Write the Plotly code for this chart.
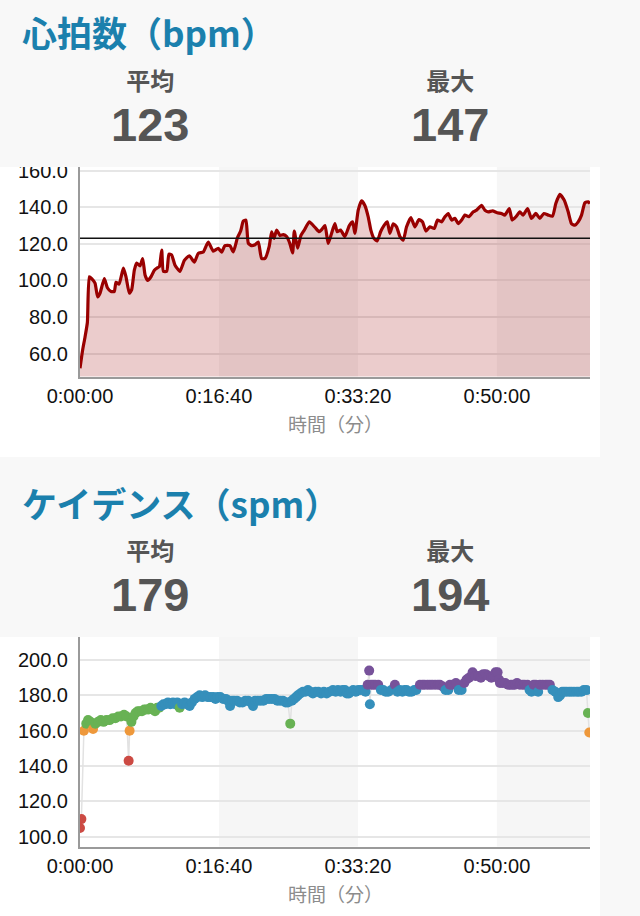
import plotly.graph_objects as go

W, H = 640, 916

# ---------------- data ----------------
hr_t = [0, 19, 36, 53, 67, 84, 108, 127, 144, 175, 197, 223, 247, 259, 281, 312, 331, 355, 372, 391,
        408, 432, 451, 468, 487, 511, 535, 559, 571, 588, 600, 624, 640, 659, 683, 719, 751, 787, 823, 851,
        887, 923, 959, 995, 1019, 1043, 1079, 1103, 1134, 1156, 1175, 1194, 1211, 1235, 1259, 1283, 1307, 1331, 1362, 1379,
        1396, 1415, 1439, 1463, 1487, 1511, 1530, 1542, 1566, 1590, 1614, 1650, 1691, 1722, 1739, 1763, 1786, 1810, 1834, 1851,
        1875, 1906, 1938, 1962, 1978, 2002, 2026, 2050, 2074, 2093, 2115, 2139, 2163, 2187, 2211, 2230, 2254, 2278, 2302, 2326,
        2350, 2381, 2410, 2439, 2465, 2489, 2518, 2549, 2573, 2602, 2626, 2650, 2674, 2698, 2722, 2746, 2770, 2798, 2830, 2854,
        2890, 2914, 2938, 2969, 3002, 3033, 3057, 3089, 3110, 3137, 3165, 3189, 3221, 3249, 3280, 3309, 3338, 3369, 3400, 3424,
        3453, 3484, 3513, 3537, 3561, 3585, 3609, 3633, 3657, 3670]
hr_v = [52, 62, 69, 77, 102, 101, 98.5, 91, 93, 101, 96, 94, 94, 99, 98, 106.7, 102, 93, 95, 105.6,
        109.5, 108, 112, 103, 100, 102, 105.6, 107, 107.5, 116.6, 105, 105, 114.4, 114, 108.5, 105, 111, 113.5, 110, 114.8,
        115.6, 121, 116, 117.6, 115.5, 119, 119, 115.6, 123.6, 127, 132.4, 133, 120.4, 119, 119.5, 121, 112, 112, 118.8, 126.6,
        123, 127.5, 124.6, 125, 124, 120, 115, 127, 117.6, 124.6, 127.5, 132, 129, 126.6, 127.8, 130, 120.2, 125.7, 131, 126.6,
        127.5, 124, 130, 132, 125.7, 138.4, 143.5, 141, 134.8, 127.5, 123, 121.6, 126.6, 130, 132, 125.7, 131, 129.3, 124, 122,
        129.3, 134.4, 129.3, 133.3, 132, 127, 129.3, 128.4, 133, 132, 134.8, 136.6, 133, 134, 131, 133, 135.7, 134.8, 137.5, 138.4,
        141, 138.4, 137.5, 138, 137, 136.6, 135.7, 139.3, 133, 134.8, 137.5, 135.7, 139.3, 133.9, 136.6, 133.9, 136.6, 135.7, 135.1, 142,
        147, 143.9, 137.5, 131, 130.2, 132, 135.7, 142.4, 143, 142]
hr_avg = 123
hr_max = 147

cad_t = [0, 10, 28, 45, 58, 75, 94, 110, 130, 150, 170, 190, 213, 235, 255, 275, 295, 317, 335, 350,
         357, 370, 385, 400, 415, 430, 446, 462, 477, 493, 508, 525, 540, 555, 570, 585, 600, 615, 633, 650,
         669, 685, 700, 717, 735, 753, 770, 789, 805, 825, 843, 861, 880, 900, 920, 940, 960, 975, 990, 1010,
         1030, 1050, 1065, 1080, 1095, 1110, 1130, 1150, 1170, 1190, 1210, 1230, 1245, 1260, 1280, 1300, 1320, 1340, 1360, 1380,
         1400, 1420, 1440, 1460, 1480, 1496, 1513, 1525, 1540, 1555, 1568, 1585, 1604, 1622, 1640, 1658, 1676, 1695, 1715, 1735,
         1755, 1775, 1795, 1820, 1840, 1856, 1875, 1890, 1907, 1920, 1935, 1950, 1966, 1985, 2002, 2020, 2038, 2055, 2070, 2081,
         2086, 2095, 2110, 2125, 2146, 2165, 2182, 2200, 2218, 2240, 2266, 2285, 2302, 2320, 2335, 2350, 2368, 2386, 2405, 2420,
         2446, 2465, 2480, 2500, 2518, 2535, 2555, 2575, 2590, 2610, 2630, 2650, 2662, 2680, 2705, 2725, 2746, 2765, 2782, 2800,
         2825, 2845, 2866, 2885, 2902, 2920, 2940, 2960, 2974, 2990, 3005, 3015, 3022, 3040, 3060, 3080, 3100, 3115, 3129, 3145,
         3165, 3185, 3200, 3220, 3235, 3249, 3265, 3280, 3297, 3310, 3330, 3350, 3365, 3381, 3400, 3420, 3441, 3455, 3470, 3485,
         3501, 3520, 3537, 3555, 3575, 3590, 3609, 3625, 3645, 3655, 3665]
cad_v = [105, 110, 160, 164, 166, 165, 161, 164, 165, 166, 165, 166, 166, 167, 167, 168, 168, 169, 168, 143,
         160, 165, 168, 170, 171, 171, 171, 172, 172, 172, 173, 172, 171, 173, 173, 174, 175, 175, 176, 175,
         176, 175, 176, 173, 175, 176, 175, 174, 176, 178, 179, 180, 179, 180, 179, 179, 179, 178, 179, 179,
         178, 178, 177, 174, 177, 177, 177, 176, 176, 177, 177, 176, 174, 177, 177, 177, 177, 178, 178, 178,
         178, 177, 177, 177, 176, 176, 164, 177, 178, 179, 180, 181, 182, 182, 183, 182, 181, 182, 182, 181,
         182, 181, 182, 183, 182, 183, 182, 183, 183, 181, 181, 182, 183, 182, 183, 183, 183, 182, 186, 194,
         175, 186, 186, 186, 186, 183, 183, 182, 182, 183, 186, 182, 183, 182, 183, 183, 182, 182, 183, 183,
         186, 186, 186, 186, 186, 186, 186, 186, 186, 185, 183, 183, 186, 186, 187, 183, 183, 187, 189, 190,
         193, 191, 191, 190, 192, 192, 191, 190, 191, 193, 193, 189, 187, 187, 187, 186, 186, 186, 186, 187,
         186, 186, 186, 186, 183, 182, 186, 186, 182, 186, 186, 186, 186, 186, 183, 182, 179, 180, 182, 182,
         182, 182, 182, 182, 182, 182, 182, 183, 183, 170, 159]
cad_avg = 179
cad_max = 194

time_tickvals = [0, 1000, 2000, 3000]
time_ticktext = ["0:00:00", "0:16:40", "0:33:20", "0:50:00"]
hr_tickvals = [60, 80, 100, 120, 140, 160]
cad_tickvals = [100, 120, 140, 160, 180, 200]

# ---------------- styling helpers ----------------
BG = "#f8f8f8"
STRIPE = "#f6f6f6"
TITLE_BLUE = "#1b80ad"
STAT_GRAY = "#555555"
CJK = "Noto Sans CJK JP"
LATIN = "Liberation Sans"


def zone_color(v):
    if v >= 184:
        return "#77529a"
    if v >= 174:
        return "#358fbb"
    if v >= 164:
        return "#68b254"
    if v >= 153:
        return "#ee983b"
    return "#cc4a43"


def px_x(p):
    return p / W


def px_y(p):
    return 1 - p / H


X0, X1 = 80, 590
HR_TOP, HR_BOT = 167, 376.5
CAD_TOP, CAD_BOT = 637, 846.5
T_END = 3670

fig = go.Figure()

fig.add_trace(go.Scatter(
    x=hr_t, y=hr_v, mode="lines", fill="tozeroy",
    line=dict(color="#990000", width=3.2, shape="spline", smoothing=0.5),
    fillcolor="rgba(153,0,0,0.2)", hoverinfo="skip", showlegend=False,
    xaxis="x", yaxis="y"))

fig.add_trace(go.Scatter(
    x=cad_t, y=cad_v, mode="lines+markers",
    line=dict(color="#e2e2e2", width=1.5),
    marker=dict(size=10, color=[zone_color(v) for v in cad_v], line=dict(width=0)),
    hoverinfo="skip", showlegend=False,
    xaxis="x2", yaxis="y2"))

xcommon = dict(
    range=[0, T_END], tickvals=time_tickvals, ticktext=time_ticktext,
    showgrid=False, zeroline=False, showline=True, linecolor="#9a9a9a", linewidth=2,
    ticks="", tickfont=dict(family=LATIN, size=20, color="#111111"),
    ticklabelstandoff=0, automargin=False,
    domain=[px_x(X0), px_x(X1)], fixedrange=True)
ycommon = dict(
    tickformat=".1f", showgrid=True, gridcolor="#e6e6e6", gridwidth=2,
    zeroline=False, showline=True, linecolor="#9a9a9a", linewidth=2,
    ticks="", tickfont=dict(family=LATIN, size=20, color="#111111"),
    ticklabelstandoff=6, automargin=False, fixedrange=True)

fig.update_layout(
    width=W, height=H, margin=dict(l=0, r=0, t=0, b=0, autoexpand=False),
    paper_bgcolor=BG, plot_bgcolor="rgba(0,0,0,0)",
    xaxis=dict(xcommon, anchor="y"),
    yaxis=dict(ycommon, range=[47.5, 162], tickvals=hr_tickvals,
               domain=[px_y(HR_BOT), px_y(HR_TOP)], anchor="x"),
    xaxis2=dict(xcommon, anchor="y2"),
    yaxis2=dict(ycommon, range=[94.5, 213], tickvals=cad_tickvals,
                domain=[px_y(CAD_BOT), px_y(CAD_TOP)], anchor="x2"),
)

shapes = []
# white panels
for top, bot in [(167, 457), (637, 916)]:
    shapes.append(dict(type="rect", xref="paper", yref="paper", x0=0, x1=px_x(600),
                       y0=px_y(bot), y1=px_y(top), fillcolor="white", line=dict(width=0), layer="below"))
# alternating stripes
for xa, ya in [("x", "y"), ("x2", "y2")]:
    for a, b in [(1000, 2000), (3000, T_END)]:
        shapes.append(dict(type="rect", xref=xa, yref=ya + " domain", x0=a, x1=b, y0=0, y1=1,
                           fillcolor=STRIPE, line=dict(width=0), layer="below"))
# average line on heart rate
shapes.append(dict(type="line", xref="x domain", yref="y", x0=0, x1=1, y0=hr_avg, y1=hr_avg,
                   line=dict(color="#111111", width=1.5), layer="above"))
# cover above the heart-rate panel (clips top tick label)
shapes.append(dict(type="rect", xref="paper", yref="paper", x0=0, x1=px_x(X0 - 2),
                   y0=px_y(HR_TOP), y1=px_y(150), fillcolor=BG, line=dict(width=0), layer="above"))
fig.update_layout(shapes=shapes)

ann = []
for off, title, avg, mx in [(0, "心拍数（bpm）", hr_avg, hr_max), (470, "ケイデンス（spm）", cad_avg, cad_max)]:
    ann.append(dict(x=px_x(20), y=px_y(32 + off), xref="paper", yref="paper", xanchor="left", yanchor="middle",
                    text="<b>" + title + "</b>", showarrow=False,
                    font=dict(family=CJK, size=35, color=TITLE_BLUE)))
    for cx, lab, val in [(150, "平均", avg), (450, "最大", mx)]:
        txt = ("<span style='font-size:24px'><b>" + lab + "</b></span><br>"
               "<span style='font-family:Liberation Sans;font-size:47px'><b>" + str(val) + "</b></span>")
        ann.append(dict(x=px_x(cx), y=px_y(106 + off), xref="paper", yref="paper", xanchor="center",
                        yanchor="middle", align="center", text=txt, showarrow=False,
                        font=dict(family=CJK, size=39.3, color=STAT_GRAY)))
    ann.append(dict(x=px_x((X0 + X1) / 2), y=px_y(423 + off), xref="paper", yref="paper",
                    xanchor="center", yanchor="middle", text="時間（分）", showarrow=False,
                    font=dict(family=CJK, size=19, color="#8c8c8c")))
fig.update_layout(annotations=ann)

fig.write_html("out.html")
